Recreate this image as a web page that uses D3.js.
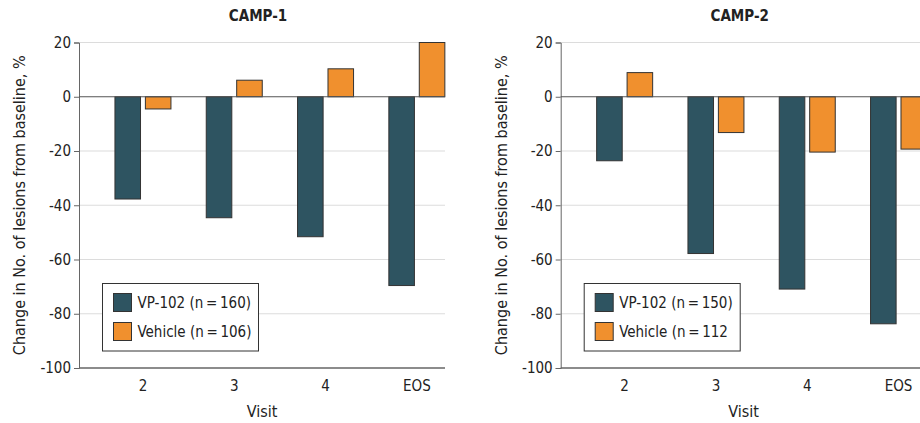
<!DOCTYPE html>
<html>
<head>
<meta charset="utf-8">
<script src="https://cdn.jsdelivr.net/npm/d3@7"></script>
<style>
  body { margin: 0; background: #fff; }
  text { font-family: "DejaVu Sans Condensed", sans-serif; fill: #222; }
</style>
</head>
<body>
<div id="chart"></div>
<script>
const visits = ['2', '3', '4', 'EOS']
const yTicks = [20, 0, -20, -40, -60, -80, -100]

const camp1Vp = [-37.7, -44.6, -51.6, -69.6]
const camp1Veh = [-4.5, 6.1, 10.3, 20]
const camp2Vp = [-23.6, -57.8, -70.9, -83.7]
const camp2Veh = [8.9, -13.2, -20.4, -19.3]

const camp1Legend = ['VP-102 (n\u2009=\u2009160)', 'Vehicle (n\u2009=\u2009106)']
const camp2Legend = ['VP-102 (n\u2009=\u2009150)', 'Vehicle (n\u2009=\u2009112']

const WIDTH = 920, HEIGHT = 423
const TOP = 42.5, BOTTOM = 368
const PLOT_W = 366
const COLORS = { vp: '#2e5461', veh: '#f0902e' }

const svg = d3.select('#chart').append('svg')
  .attr('width', WIDTH)
  .attr('height', HEIGHT)

const y = d3.scaleLinear().domain([-100, 20]).range([BOTTOM, TOP])

function drawPanel(ox, title, vp, veh, legend) {
  const g = svg.append('g').attr('transform', `translate(${ox}, 0)`)

  const x = d3.scaleBand()
    .domain(visits)
    .range([18.3, 18.3 + 365.2])

  const sub = d3.scaleBand()
    .domain(['vp', 'veh'])
    .range([-28, 28])
    .paddingInner(0.16)

  // grid
  g.selectAll('.grid')
    .data(yTicks.filter(d => d !== 0 && d !== -100))
    .enter().append('line')
      .attr('x1', 0).attr('x2', PLOT_W)
      .attr('y1', d => y(d)).attr('y2', d => y(d))
      .attr('stroke', '#dcdcdc')
      .attr('stroke-width', 1.2)

  // y axis
  const yAxis = g.append('g')
    .call(d3.axisLeft(y).tickValues(yTicks).tickSize(5).tickPadding(3).tickFormat(d => d))
  yAxis.select('.domain').attr('stroke', '#666')
  yAxis.selectAll('.tick line').attr('stroke', '#666')
  yAxis.selectAll('text')
    .style('font-size', '15px')
    .attr('fill', '#222')

  // x axis (labels only)
  const xAxis = g.append('g')
    .attr('transform', `translate(0, ${BOTTOM})`)
    .call(d3.axisBottom(x).tickSize(0).tickPadding(12))
  xAxis.select('.domain').remove()
  xAxis.selectAll('text')
    .style('font-size', '15px')
    .attr('fill', '#222')

  g.append('line')
    .attr('x1', 0).attr('x2', PLOT_W)
    .attr('y1', BOTTOM).attr('y2', BOTTOM)
    .attr('stroke', '#666').attr('stroke-width', 1.5)

  // bars
  const rows = visits.map((v, i) => ({ visit: v, vp: vp[i], veh: veh[i] }))
  const grp = g.selectAll('.visit')
    .data(rows)
    .enter().append('g')
      .attr('transform', d => `translate(${x(d.visit) + x.bandwidth() / 2}, 0)`)

  grp.selectAll('rect')
    .data(d => ['vp', 'veh'].map(k => ({ key: k, value: d[k] })))
    .enter().append('rect')
      .attr('x', d => sub(d.key))
      .attr('width', sub.bandwidth())
      .attr('y', d => y(Math.max(0, d.value)))
      .attr('height', d => Math.abs(y(d.value) - y(0)))
      .attr('fill', d => COLORS[d.key])
      .attr('stroke', '#333')
      .attr('stroke-width', 1)

  // zero line
  g.append('line')
    .attr('x1', 0).attr('x2', PLOT_W)
    .attr('y1', y(0)).attr('y2', y(0))
    .attr('stroke', '#555').attr('stroke-width', 1.2)

  // title
  g.append('text')
    .attr('x', 179)
    .attr('y', 21)
    .attr('text-anchor', 'middle')
    .style('font-size', '15px')
    .style('font-weight', 'bold')
    .text(title)

  // axis labels
  g.append('text')
    .attr('x', 183)
    .attr('y', 417)
    .attr('text-anchor', 'middle')
    .style('font-size', '16px')
    .text('Visit')

  g.append('text')
    .attr('transform', `translate(-54, ${(TOP + BOTTOM) / 2}) rotate(-90)`)
    .attr('text-anchor', 'middle')
    .style('font-size', '16px')
    .text('Change in No. of lesions from baseline, %')

  // legend
  const lg = g.append('g').attr('transform', 'translate(23.5, 283.5)')
  lg.append('rect')
    .attr('width', 156).attr('height', 67.5)
    .attr('fill', '#fff').attr('stroke', '#333').attr('stroke-width', 1)
  const items = lg.selectAll('.item')
    .data(['vp', 'veh'])
    .enter().append('g')
      .attr('transform', (d, i) => `translate(11, ${10 + i * 29})`)
  items.append('rect')
    .attr('width', 18).attr('height', 18)
    .attr('fill', d => COLORS[d])
    .attr('stroke', '#333')
  items.append('text')
    .attr('x', 24)
    .attr('y', 14.5)
    .style('font-size', '15px')
    .text((d, i) => legend[i])
}

drawPanel(79, 'CAMP-1', camp1Vp, camp1Veh, camp1Legend)
drawPanel(560.7, 'CAMP-2', camp2Vp, camp2Veh, camp2Legend)
</script>
</body>
</html>
